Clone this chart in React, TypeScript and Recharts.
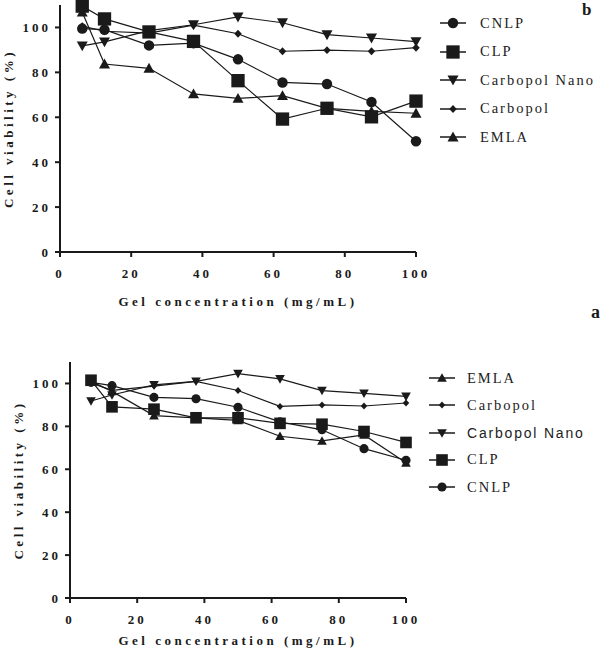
import { LineChart, Line, XAxis, YAxis, Label } from "recharts";

const conc = [6.25, 12.5, 25, 37.5, 50, 62.5, 75, 87.5, 100];
const xTicks = [0, 20, 40, 60, 80, 100];
const yTicks = [0, 20, 40, 60, 80, 100];

// panel b (top)
const cnlpB = [99.5, 99, 92, 93, 85.8, 75.5, 74.8, 66.8, 49.3];
const clpB = [109.5, 103.8, 98, 93.8, 76.3, 59.2, 64, 60.2, 67.2];
const nanoB = [91.8, 93.6, 98.6, 101.2, 104.7, 102.1, 96.8, 95.3, 93.7];
const carbB = [100.6, 98.3, 97.5, 101, 97.2, 89.4, 89.9, 89.4, 91];
const emlaB = [106.8, 83.7, 81.8, 70.4, 68.4, 69.6, 64, 62.6, 61.8];

// panel a (bottom)
const cnlpA = [100.5, 99, 93.5, 92.9, 88.9, 82.1, 78.4, 69.6, 64.2];
const clpA = [101.5, 89.1, 88, 84, 84, 81.4, 81, 77.6, 72.5];
const nanoA = [91.8, 94.6, 99.3, 101, 104.6, 102.1, 96.7, 95.4, 94];
const carbA = [100.2, 96.8, 98.8, 101, 96.7, 89.3, 90, 89.5, 90.9];
const emlaA = [101, 96.3, 85, 84, 82.8, 75.4, 73.2, 76, 63];

const legendB = ["CNLP", "CLP", "Carbopol Nano", "Carbopol", "EMLA"];
const legendA = ["EMLA", "Carbopol", "Carbopol Nano", "CLP", "CNLP"];

const shapeOf: Record<string, string> = {
  CNLP: "circle",
  CLP: "square",
  "Carbopol Nano": "down",
  Carbopol: "diamond",
  EMLA: "up",
};

const dataB = conc.map((c, i) => ({
  conc: c,
  CNLP: cnlpB[i],
  CLP: clpB[i],
  "Carbopol Nano": nanoB[i],
  Carbopol: carbB[i],
  EMLA: emlaB[i],
}));

const dataA = conc.map((c, i) => ({
  conc: c,
  CNLP: cnlpA[i],
  CLP: clpA[i],
  "Carbopol Nano": nanoA[i],
  Carbopol: carbA[i],
  EMLA: emlaA[i],
}));

const INK = "#1a1a1a";
const serif = "'Liberation Serif', 'Times New Roman', serif";
const sans = "'Liberation Sans', Arial, sans-serif";

function Marker({ shape, cx, cy, s }: { shape: string; cx: number; cy: number; s: number }) {
  if (shape === "circle") return <circle cx={cx} cy={cy} r={s * 0.95} fill={INK} />;
  if (shape === "square")
    return <rect x={cx - s * 1.1} y={cy - s * 1.1} width={s * 2.2} height={s * 2.2} fill={INK} />;
  if (shape === "down")
    return (
      <polygon
        points={`${cx - s},${cy - s * 0.8} ${cx + s},${cy - s * 0.8} ${cx},${cy + s}`}
        fill={INK}
      />
    );
  if (shape === "up")
    return (
      <polygon
        points={`${cx - s},${cy + s * 0.8} ${cx + s},${cy + s * 0.8} ${cx},${cy - s}`}
        fill={INK}
      />
    );
  return (
    <polygon
      points={`${cx},${cy - s * 0.85} ${cx + s * 0.8},${cy} ${cx},${cy + s * 0.85} ${cx - s * 0.8},${cy}`}
      fill={INK}
    />
  );
}

const sizeFor = (name: string, s: number) =>
  name === "CLP" ? s * 1.1 : name === "Carbopol" ? s * 0.85 : s;

const tickStyle = {
  fill: INK,
  fontSize: 13,
  fontWeight: 700,
  fontFamily: serif,
  letterSpacing: 3,
};

const labelStyle = {
  fill: INK,
  fontSize: 13,
  fontWeight: 700,
  fontFamily: serif,
  letterSpacing: 3.5,
  textAnchor: "middle" as const,
};

function Panel({
  data,
  order,
  top,
  height,
  margin,
  yWidth,
  xHeight,
  yLabelOffset,
  xLabelOffset,
  s,
}: any) {
  return (
    <div style={{ position: "absolute", left: 0, top }}>
      <LineChart width={602} height={height} data={data} margin={margin}>
        <XAxis
          type="number"
          dataKey="conc"
          domain={[0, 100]}
          ticks={xTicks}
          height={xHeight}
          tick={tickStyle}
          tickSize={5}
          tickMargin={12}
          axisLine={{ stroke: INK, strokeWidth: 2 }}
          tickLine={{ stroke: INK, strokeWidth: 2 }}
        >
          <Label
            value="Gel concentration (mg/mL)"
            position="insideBottom"
            offset={xLabelOffset}
            style={labelStyle}
          />
        </XAxis>
        <YAxis
          type="number"
          domain={[0, 110]}
          ticks={yTicks}
          width={yWidth}
          tick={tickStyle}
          tickSize={5}
          tickMargin={4}
          axisLine={{ stroke: INK, strokeWidth: 2 }}
          tickLine={{ stroke: INK, strokeWidth: 2 }}
        >
          <Label
            value="Cell viability (%)"
            angle={-90}
            position="insideLeft"
            offset={yLabelOffset}
            style={labelStyle}
          />
        </YAxis>
        {order.map((name: string) => (
          <Line
            key={name}
            dataKey={name}
            stroke={INK}
            strokeWidth={1.2}
            isAnimationActive={false}
            dot={(p: any) => (
              <Marker
                key={`${name}-${p.index}`}
                shape={shapeOf[name]}
                cx={p.cx}
                cy={p.cy}
                s={sizeFor(name, s)}
              />
            )}
            activeDot={false}
          />
        ))}
      </LineChart>
    </div>
  );
}

function LegendBlock({
  items,
  left,
  top,
  gap,
  textLeft,
  s,
  sansNano,
}: {
  items: string[];
  left: number;
  top: number;
  gap: number;
  textLeft: number;
  s: number;
  sansNano: boolean;
}) {
  return (
    <div style={{ position: "absolute", left, top }}>
      {items.map((name, i) => {
        const isSans = sansNano && name === "Carbopol Nano";
        return (
          <div
            key={name}
            style={{
              position: "absolute",
              top: i * gap,
              left: 0,
              height: 20,
              display: "flex",
              alignItems: "center",
              whiteSpace: "nowrap",
            }}
          >
            <svg width={26} height={20}>
              <line x1={0} y1={10} x2={26} y2={10} stroke={INK} strokeWidth={1.5} />
              <Marker shape={shapeOf[name]} cx={13} cy={10} s={sizeFor(name, s)} />
            </svg>
            <span
              style={{
                marginLeft: textLeft - 26,
                fontFamily: isSans ? sans : serif,
                fontSize: isSans ? 14 : 14.5,
                letterSpacing: isSans ? 1.8 : 2,
                color: "#222",
              }}
            >
              {name}
            </span>
          </div>
        );
      })}
    </div>
  );
}

export default function App() {
  return (
    <div
      style={{
        position: "absolute",
        left: 0,
        top: 0,
        width: 602,
        height: 653,
        background: "#fff",
        overflow: "hidden",
      }}
    >
      <Panel
        data={dataB}
        order={["EMLA", "Carbopol", "Carbopol Nano", "CNLP", "CLP"]}
        top={0}
        height={320}
        margin={{ top: 5, right: 186, left: 0, bottom: 10 }}
        yWidth={60}
        xHeight={58}
        yLabelOffset={8}
        xLabelOffset={4}
        s={5.5}
      />
      <Panel
        data={dataA}
        order={["EMLA", "Carbopol", "Carbopol Nano", "CNLP", "CLP"]}
        top={330}
        height={323}
        margin={{ top: 32, right: 196, left: 0, bottom: 5 }}
        yWidth={70}
        xHeight={50}
        yLabelOffset={18}
        xLabelOffset={3}
        s={4.8}
      />
      <LegendBlock items={legendB} left={440} top={13} gap={28.5} textLeft={40} s={5.5} sansNano={false} />
      <LegendBlock items={legendA} left={429} top={368} gap={27.3} textLeft={38} s={4.8} sansNano={true} />
      <div
        style={{
          position: "absolute",
          left: 582,
          top: 0,
          fontFamily: serif,
          fontWeight: 700,
          fontSize: 17,
          color: INK,
        }}
      >
        b
      </div>
      <div
        style={{
          position: "absolute",
          left: 591,
          top: 302,
          fontFamily: serif,
          fontWeight: 700,
          fontSize: 18,
          color: INK,
        }}
      >
        a
      </div>
    </div>
  );
}
